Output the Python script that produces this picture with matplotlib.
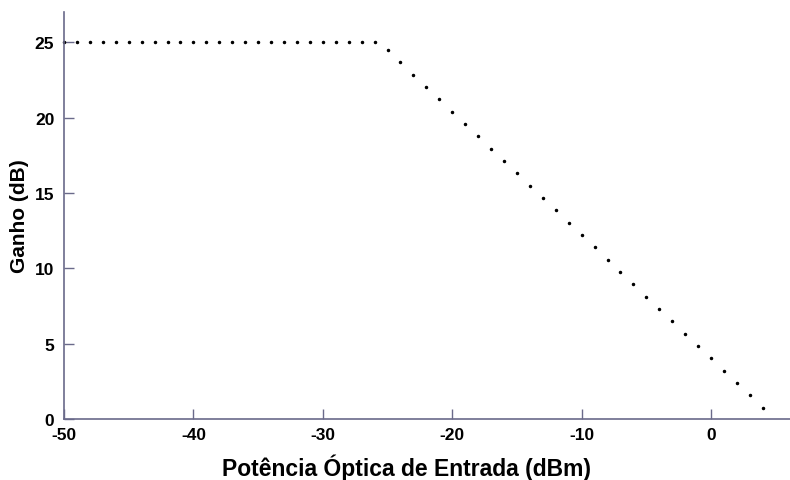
import matplotlib
matplotlib.use("Agg")
import matplotlib.pyplot as plt

potencia = [-50, -49, -48, -47, -46, -45, -44, -43, -42, -41, -40, -39, -38, -37,
            -36, -35, -34, -33, -32, -31, -30, -29, -28, -27, -26, -25, -24, -23,
            -22, -21, -20, -19, -18, -17, -16, -15, -14, -13, -12, -11, -10, -9,
            -8, -7, -6, -5, -4, -3, -2, -1, 0, 1, 2, 3, 4]
ganho = [25.0, 25.0, 25.0, 25.0, 25.0, 25.0, 25.0, 25.0, 25.0, 25.0, 25.0, 25.0,
         25.0, 25.0, 25.0, 25.0, 25.0, 25.0, 25.0, 25.0, 25.0, 25.0, 25.0, 25.0,
         25.0, 24.48, 23.67, 22.85, 22.03, 21.21, 20.39, 19.57, 18.75, 17.93,
         17.12, 16.30, 15.48, 14.66, 13.84, 13.02, 12.21, 11.39, 10.57, 9.75,
         8.93, 8.11, 7.30, 6.48, 5.66, 4.84, 4.03, 3.21, 2.39, 1.57, 0.75]
xticks = [-50, -40, -30, -20, -10, 0]
yticks = [0, 5, 10, 15, 20, 25]

plt.rcParams['axes.unicode_minus'] = False
plt.rcParams['font.family'] = ['Liberation Sans', 'DejaVu Sans']

fig = plt.figure(figsize=(7.9, 4.81), dpi=100)
ax = fig.add_axes([64/790, 61/481, (790-64)/790, 407/481])
ax.plot(potencia, ganho, linestyle='none', marker='.', markersize=3.0,
        color='black', clip_on=False)
ax.set_xlim(-50, 6.1)
ax.set_ylim(0, 27)
ax.set_xticks(xticks)
ax.set_yticks(yticks)
spc = '#6a6a8a'
for s in ['top', 'right']:
    ax.spines[s].set_visible(False)
for s in ['left', 'bottom']:
    ax.spines[s].set_color(spc)
    ax.spines[s].set_linewidth(1.2)
ax.tick_params(direction='in', length=7, width=1, color=spc, labelsize=12.5)
ax.tick_params(axis='x', pad=6)
ax.tick_params(axis='y', pad=7)
for lab in ax.get_xticklabels() + ax.get_yticklabels():
    lab.set_fontweight('bold')
ax.set_xlabel('Potência Óptica de Entrada (dBm)', fontsize=16.5, fontweight='bold')
ax.xaxis.set_label_coords(0.472, -0.137)
ax.xaxis.label.set_va('baseline')
ax.set_ylabel('Ganho (dB)', fontsize=15, fontweight='bold')
ax.yaxis.set_label_coords(-0.061, 0.5)
ax.yaxis.label.set_va('center')
fig.savefig('out.png', dpi=100)
